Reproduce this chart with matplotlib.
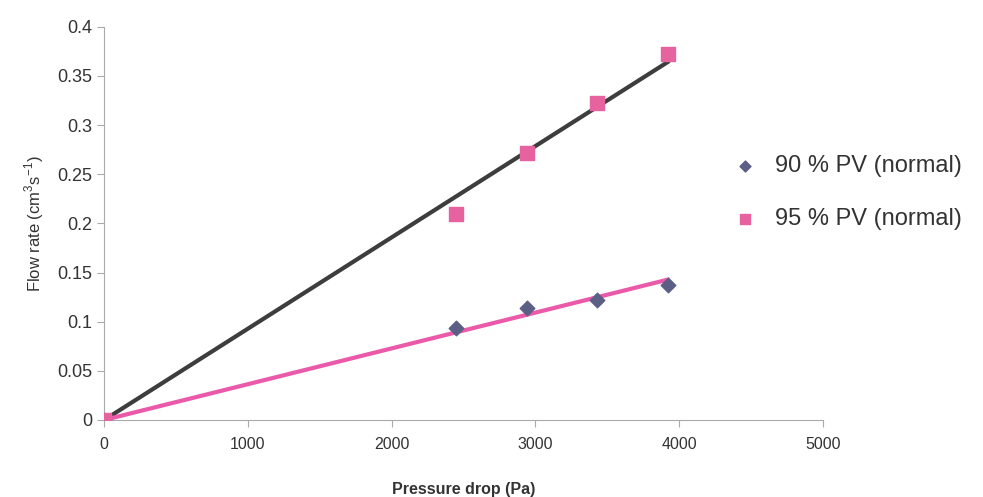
import matplotlib
matplotlib.use("Agg")
import matplotlib.pyplot as plt
import numpy as np

plt.rcParams['font.family'] = ['Liberation Sans', 'DejaVu Sans']

pressure = [0, 2450, 2940, 3430, 3920]
flow_90 = [0, 0.094, 0.114, 0.122, 0.137]
flow_95 = [0, 0.21, 0.272, 0.323, 0.372]
labels = ["90 % PV (normal)", "95 % PV (normal)"]

x = np.array(pressure, dtype=float)
fit_x = np.array([0, max(pressure)], dtype=float)
slope_90 = np.sum(x * np.array(flow_90)) / np.sum(x * x)
slope_95 = np.sum(x * np.array(flow_95)) / np.sum(x * x)

fig = plt.figure(figsize=(9.83, 4.97), dpi=100)
ax = fig.add_axes([0.106, 0.155, 0.731, 0.791])

ax.plot(fit_x, slope_95 * fit_x, color='#3d3d3d', lw=3, zorder=2)
ax.plot(fit_x, slope_90 * fit_x, color='#ea5aa8', lw=3, zorder=2)
ax.scatter(pressure, flow_90, marker='D', s=55, color='#5b5f86', label=labels[0], zorder=3)
ax.scatter(pressure, flow_95, marker='s', s=100, color='#e6639f', label=labels[1], zorder=3)

ax.set_xlim(0, 5000)
ax.set_ylim(0, 0.4)
ax.set_xticks([0, 1000, 2000, 3000, 4000, 5000])
ax.set_yticks([0, 0.05, 0.1, 0.15, 0.2, 0.25, 0.3, 0.35, 0.4])
ax.set_yticklabels(['0', '0.05', '0.1', '0.15', '0.2', '0.25', '0.3', '0.35', '0.4'])
ax.tick_params(axis='y', labelsize=13, colors='#aaaaaa', labelcolor='#333333', length=5, width=0.8)
ax.tick_params(axis='x', labelsize=11.5, colors='#aaaaaa', labelcolor='#333333', length=5, width=0.8, pad=7)
for s in ['top', 'right']:
    ax.spines[s].set_visible(False)
for s in ['left', 'bottom']:
    ax.spines[s].set_color('#aaaaaa')
    ax.spines[s].set_linewidth(0.8)

ax.set_xlabel('Pressure drop (Pa)', fontsize=11.5, fontweight='bold', color='#333333', labelpad=22)
ax.set_ylabel('Flow rate (cm$^{\\mathregular{3}}$s$^{\\mathregular{-1}}$)', fontsize=12, color='#333333', labelpad=8)

leg = fig.legend(loc='upper left', bbox_to_anchor=(0.712, 0.73), frameon=False,
                 fontsize=17, handletextpad=0.3, labelspacing=1.3, markerscale=0.75)
for t in leg.get_texts():
    t.set_color('#333333')

fig.savefig('out.png', dpi=100)
